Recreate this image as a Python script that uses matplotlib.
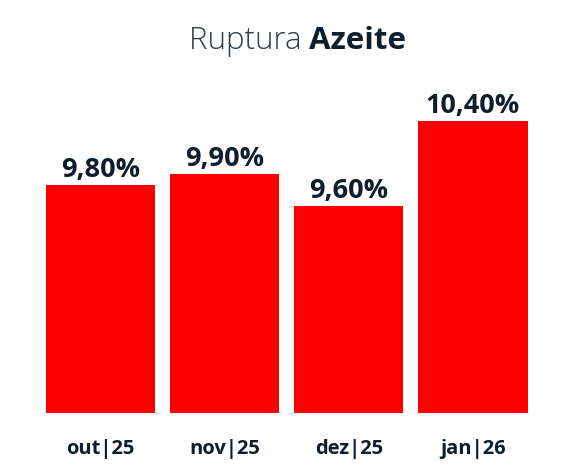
import matplotlib
matplotlib.use("Agg")
import matplotlib.pyplot as plt

categories = ["out|25", "nov|25", "dez|25", "jan|26"]
values = [9.80, 9.90, 9.60, 10.40]
value_labels = ["9,80%", "9,90%", "9,60%", "10,40%"]
title_light = "Ruptura "
title_bold = "Azeite"

RED = "#FF0000"
DARK = "#0F1E2C"
GREY = "#2E3D4B"

W, H = 577, 470
fig = plt.figure(figsize=(W / 100, H / 100), dpi=100)
fig.patch.set_facecolor("white")

# axes in pixel terms
left_px, right_px = 38.5, 535.0
bottom_px, top_px = 413.0, 60.0
ax = fig.add_axes([left_px / W, (H - bottom_px) / H,
                   (right_px - left_px) / W, (bottom_px - top_px) / H])
ymin = 7.65
px_per_unit = 106.25
ax.set_ylim(ymin, ymin + (bottom_px - top_px) / px_per_unit)
ax.set_xlim(-0.5, len(categories) - 0.5)

x = list(range(len(categories)))
ax.bar(x, [v - ymin for v in values], bottom=ymin, width=0.88, color=RED)

for xi, v, lab in zip(x, values, value_labels):
    ax.annotate(lab, (xi, v), xytext=(0, 5.5), textcoords="offset points",
                ha="center", va="baseline", fontsize=19.5, fontweight="bold",
                family=["Open Sans", "DejaVu Sans"], color=DARK)

ax.set_xticks(x)
ax.set_xticklabels(categories, fontsize=14.5, fontweight="bold",
                   family=["Open Sans", "DejaVu Sans"], color=DARK)
ax.tick_params(axis="x", length=0, pad=19)
ax.set_yticks([])
for s in ax.spines.values():
    s.set_visible(False)

# title in two pieces
fig.canvas.draw()
renderer = fig.canvas.get_renderer()
t1 = fig.text(0, 0, title_light, fontsize=22.5, fontweight="light",
              family=["Open Sans", "DejaVu Sans"], color=GREY,
              ha="left", va="baseline")
t2 = fig.text(0, 0, title_bold, fontsize=22.5, fontweight="bold",
              family=["Open Sans", "DejaVu Sans"], color=DARK,
              ha="left", va="baseline")
w1 = t1.get_window_extent(renderer).width
w2 = t2.get_window_extent(renderer).width
cx = 297.5
start = cx - (w1 + w2) / 2
base_y = (H - 49) / H
t1.set_position((start / W, base_y))
t2.set_position(((start + w1) / W, base_y))

fig.savefig("out.png", dpi=100, facecolor="white")
